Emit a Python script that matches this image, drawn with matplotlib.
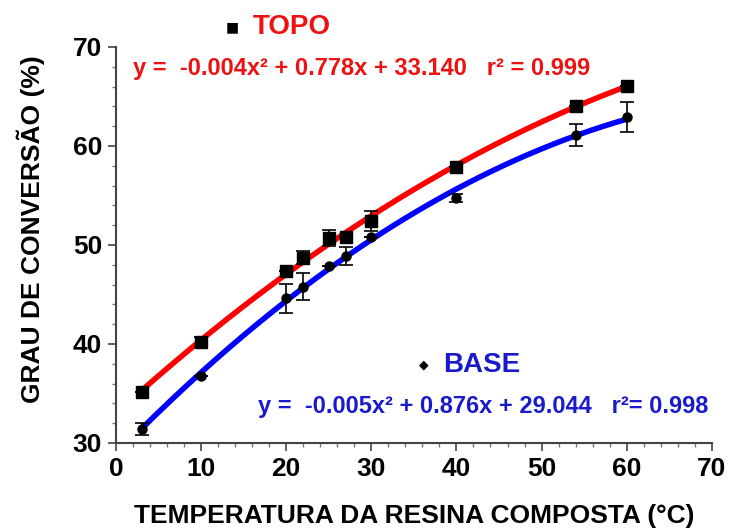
import numpy as np
import matplotlib
matplotlib.use("Agg")
from matplotlib import pyplot as plt
from matplotlib.ticker import MultipleLocator

# temperature (°C) and degree of conversion (%)
topo_x = [3, 10, 20, 22, 25, 27, 30, 40, 54, 60]
topo_y = [35.2, 40.2, 47.4, 48.7, 50.7, 50.8, 52.4, 57.9, 64.0, 66.1]
topo_err = [0.0, 0.55, 0.0, 0.65, 0.8, 0.0, 1.0, 0.0, 0.0, 0.0]

base_x = [3, 10, 20, 22, 25, 27, 30, 40, 54, 60]
base_y = [31.4, 36.8, 44.6, 45.8, 47.9, 48.9, 50.8, 54.7, 61.1, 62.9]
base_err = [0.6, 0.0, 1.45, 1.35, 0.0, 0.9, 0.0, 0.4, 1.15, 1.5]

topo_eq = "y =  -0.004x\u00b2 + 0.778x + 33.140   r\u00b2 = 0.999"
base_eq = "y =  -0.005x\u00b2 + 0.876x + 29.044   r\u00b2= 0.998"

FONT = ['Liberation Sans', 'DejaVu Sans']
plt.rcParams['font.family'] = FONT


def main():
    fig = plt.figure(figsize=(7.31, 5.29), dpi=100)
    ax = fig.add_axes([0.1587, 0.1626, 0.815, 0.7486])

    xs = np.linspace(3, 60, 200)
    ct = np.polyfit(topo_x, topo_y, 2)
    cb = np.polyfit(base_x, base_y, 2)
    ax.plot(xs, np.polyval(ct, xs), color='#ff0000', lw=4, zorder=2)
    ax.plot(xs, np.polyval(cb, xs), color='#0000ff', lw=4, zorder=2)

    ax.errorbar(topo_x, topo_y, yerr=topo_err, fmt='s', color='black',
                ms=8, capsize=5, elinewidth=1.2, capthick=1.2, zorder=3)
    ax.errorbar(base_x, base_y, yerr=base_err, fmt='o', color='black',
                ms=6.5, capsize=5, elinewidth=1.2, capthick=1.2, zorder=3)

    ax.set_xlim(0, 70)
    ax.set_ylim(30, 70)
    ax.xaxis.set_major_locator(MultipleLocator(10))
    ax.xaxis.set_minor_locator(MultipleLocator(2))
    ax.yaxis.set_major_locator(MultipleLocator(10))
    ax.yaxis.set_minor_locator(MultipleLocator(2))
    ax.spines['top'].set_visible(False)
    ax.spines['right'].set_visible(False)
    for s in ['left', 'bottom']:
        ax.spines[s].set_color('#444444')
        ax.spines[s].set_linewidth(1.5)
    ax.tick_params(which='major', length=6, width=1.2, color='#444444',
                   labelsize=19, pad=4)
    ax.tick_params(which='minor', length=3, width=1, color='#777777')
    for lbl in ax.get_xticklabels() + ax.get_yticklabels():
        lbl.set_fontweight('bold')

    ax.set_xlabel("TEMPERATURA DA RESINA COMPOSTA (°C)", fontsize=19,
                  fontweight='bold')
    ax.set_ylabel("GRAU DE CONVERSÃO (%)", fontsize=19, fontweight='bold')
    ax.xaxis.set_label_coords(0.5, -0.155)
    ax.yaxis.set_label_coords(-0.12, 0.54)

    # legend-like annotations
    fig.text(232 / 731, 1 - 27 / 529, "\u25a0", fontsize=10, ha='center',
             va='center', color='black', family=['DejaVu Sans'])
    fig.text(253 / 731, 1 - 27 / 529, "TOPO", fontsize=20, fontweight='bold',
             color='#ee1111', ha='left', va='center')
    fig.text(133 / 731, 1 - 68 / 529, topo_eq, fontsize=17, fontweight='bold',
             color='#ee1111', ha='left', va='center')

    fig.text(424 / 731, 1 - 365 / 529, "\u25c6", fontsize=9, ha='center',
             va='center', color='black', family=['DejaVu Sans'])
    fig.text(443 / 731, 1 - 365 / 529, "BASE", fontsize=20, fontweight='bold',
             color='#1a1acc', ha='left', va='center')
    fig.text(258 / 731, 1 - 407 / 529, base_eq, fontsize=17, fontweight='bold',
             color='#1a1acc', ha='left', va='center')

    fig.savefig("out.png", dpi=100)


if __name__ == "__main__":
    main()
